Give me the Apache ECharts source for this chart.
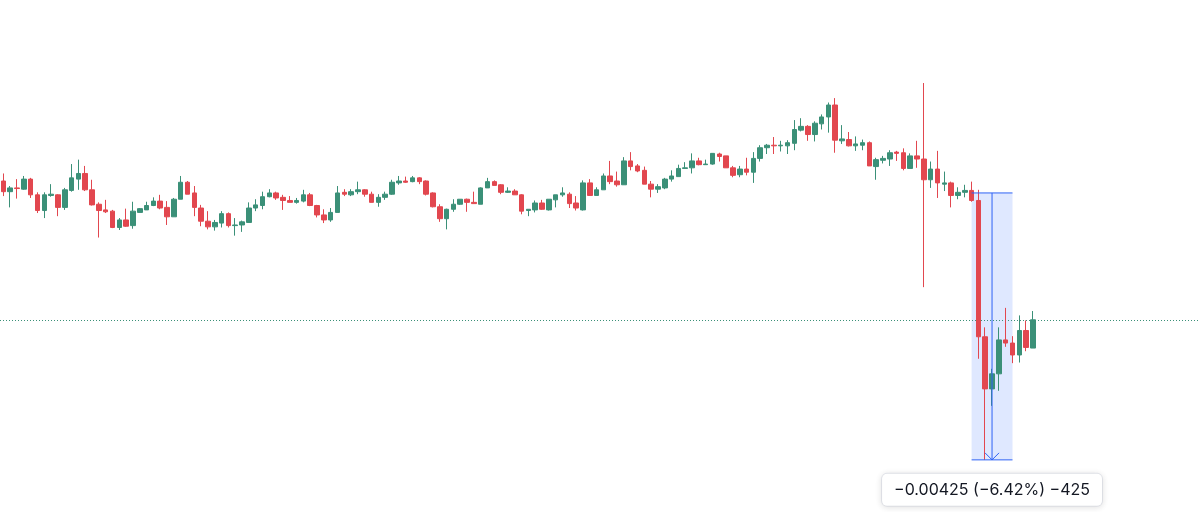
<!DOCTYPE html>
<html><head><meta charset="utf-8">
<script src="https://cdn.jsdelivr.net/npm/echarts@6/dist/echarts.min.js"></script>
<style>html,body{margin:0;padding:0;background:#fff}#c{width:1200px;height:512px}</style>
</head><body><div id="c"></div>
<script>
const opens = [
0.06639,0.06622,0.06628,0.06626,0.06642,0.06617,0.06592,0.06616,0.06617,0.06597,
0.06624,0.06642,0.06651,0.06625,0.06602,0.06593,0.06591,0.06565,0.06577,0.06568,
0.06589,0.06593,0.06600,0.06607,0.06597,0.06582,0.06610,0.06637,0.06620,0.06596,
0.06575,0.06566,0.06572,0.06587,0.06568,0.06569,0.06573,0.06596,0.06600,0.06614,
0.06620,0.06613,0.06608,0.06605,0.06607,0.06617,0.06600,0.06585,0.06577,0.06589,
0.06621,0.06617,0.06622,0.06625,0.06618,0.06605,0.06613,0.06618,0.06636,0.06639,
0.06638,0.06644,0.06639,0.06620,0.06598,0.06579,0.06594,0.06602,0.06610,0.06605,
0.06602,0.06628,0.06638,0.06633,0.06621,0.06623,0.06617,0.06592,0.06593,0.06604,
0.06593,0.06609,0.06617,0.06618,0.06604,0.06593,0.06636,0.06616,0.06625,0.06647,
0.06639,0.06633,0.06671,0.06663,0.06656,0.06634,0.06626,0.06628,0.06642,0.06646,
0.06659,0.06660,0.06671,0.06665,0.06666,0.06682,0.06679,0.06660,0.06649,0.06658,
0.06653,0.06675,0.06692,0.06696,0.06695,0.06695,0.06699,0.06720,0.06726,0.06713,
0.06730,0.06741,0.06760,0.06703,0.06705,0.06695,0.06696,0.06700,0.06662,0.06672,
0.06674,0.06685,0.06684,0.06659,0.06679,0.06674,0.06641,0.06658,0.06634,0.06636,
0.06616,0.06621,0.06624,0.06608,0.06391,0.06308,0.06332,0.06386,0.06381,0.06362,
0.06401,0.06373
];
const closes = [
0.06622,0.06628,0.06627,0.06642,0.06617,0.06592,0.06617,0.06618,0.06597,0.06625,
0.06644,0.06651,0.06625,0.06601,0.06592,0.06590,0.06565,0.06577,0.06567,0.06591,
0.06595,0.06600,0.06607,0.06596,0.06582,0.06610,0.06637,0.06618,0.06597,0.06575,
0.06566,0.06573,0.06587,0.06568,0.06569,0.06574,0.06596,0.06601,0.06614,0.06620,
0.06612,0.06608,0.06605,0.06608,0.06617,0.06600,0.06585,0.06577,0.06589,0.06620,
0.06618,0.06622,0.06625,0.06618,0.06605,0.06613,0.06618,0.06637,0.06639,0.06637,
0.06644,0.06638,0.06618,0.06598,0.06579,0.06594,0.06602,0.06610,0.06605,0.06603,
0.06628,0.06638,0.06632,0.06621,0.06623,0.06617,0.06591,0.06594,0.06604,0.06594,
0.06610,0.06617,0.06620,0.06603,0.06596,0.06636,0.06616,0.06625,0.06647,0.06638,
0.06633,0.06671,0.06662,0.06655,0.06634,0.06626,0.06630,0.06642,0.06647,0.06659,
0.06660,0.06671,0.06665,0.06666,0.06683,0.06678,0.06660,0.06648,0.06658,0.06653,
0.06675,0.06692,0.06696,0.06695,0.06696,0.06700,0.06721,0.06726,0.06713,0.06731,
0.06741,0.06760,0.06704,0.06706,0.06695,0.06698,0.06700,0.06663,0.06673,0.06675,
0.06684,0.06683,0.06659,0.06679,0.06674,0.06641,0.06658,0.06636,0.06636,0.06616,
0.06621,0.06624,0.06608,0.06391,0.06308,0.06332,0.06386,0.06381,0.06362,0.06401,
0.06374,0.06418
];
const lows = [
0.06615,0.06597,0.06611,0.06625,0.06612,0.06588,0.06580,0.06614,0.06583,0.06593,
0.06622,0.06625,0.06623,0.06600,0.06549,0.06588,0.06564,0.06561,0.06566,0.06563,
0.06589,0.06593,0.06599,0.06594,0.06569,0.06582,0.06610,0.06618,0.06583,0.06567,
0.06562,0.06560,0.06565,0.06565,0.06552,0.06558,0.06573,0.06591,0.06594,0.06613,
0.06609,0.06593,0.06605,0.06603,0.06605,0.06599,0.06581,0.06572,0.06574,0.06589,
0.06615,0.06615,0.06618,0.06614,0.06605,0.06598,0.06609,0.06617,0.06633,0.06636,
0.06637,0.06634,0.06616,0.06597,0.06574,0.06562,0.06590,0.06601,0.06590,0.06603,
0.06602,0.06628,0.06632,0.06618,0.06620,0.06617,0.06586,0.06583,0.06589,0.06593,
0.06592,0.06597,0.06614,0.06596,0.06592,0.06592,0.06616,0.06616,0.06625,0.06634,
0.06630,0.06633,0.06656,0.06653,0.06634,0.06613,0.06620,0.06626,0.06638,0.06646,
0.06659,0.06651,0.06664,0.06665,0.06665,0.06670,0.06660,0.06645,0.06645,0.06648,
0.06636,0.06670,0.06682,0.06682,0.06686,0.06682,0.06688,0.06718,0.06703,0.06702,
0.06721,0.06716,0.06684,0.06698,0.06694,0.06687,0.06688,0.06663,0.06641,0.06667,
0.06663,0.06671,0.06656,0.06659,0.06660,0.06470,0.06628,0.06612,0.06623,0.06597,
0.06610,0.06613,0.06606,0.06356,0.06195,0.06281,0.06305,0.06375,0.06349,0.06350,
0.06368,0.06373
];
const highs = [
0.06651,0.06631,0.06642,0.06647,0.06644,0.06621,0.06621,0.06634,0.06618,0.06628,
0.06666,0.06673,0.06663,0.06641,0.06605,0.06609,0.06593,0.06580,0.06595,0.06606,
0.06596,0.06606,0.06613,0.06617,0.06607,0.06612,0.06647,0.06639,0.06631,0.06601,
0.06591,0.06577,0.06591,0.06589,0.06580,0.06576,0.06605,0.06610,0.06622,0.06626,
0.06622,0.06617,0.06615,0.06612,0.06625,0.06620,0.06601,0.06594,0.06596,0.06631,
0.06626,0.06626,0.06638,0.06626,0.06622,0.06618,0.06622,0.06641,0.06647,0.06646,
0.06647,0.06645,0.06640,0.06621,0.06602,0.06595,0.06610,0.06610,0.06611,0.06622,
0.06629,0.06644,0.06640,0.06634,0.06629,0.06626,0.06618,0.06594,0.06608,0.06609,
0.06610,0.06617,0.06629,0.06621,0.06615,0.06640,0.06642,0.06629,0.06651,0.06671,
0.06654,0.06677,0.06685,0.06666,0.06662,0.06639,0.06634,0.06644,0.06656,0.06665,
0.06669,0.06683,0.06676,0.06673,0.06683,0.06684,0.06679,0.06663,0.06663,0.06676,
0.06685,0.06696,0.06698,0.06709,0.06703,0.06704,0.06736,0.06739,0.06728,0.06734,
0.06745,0.06764,0.06771,0.06728,0.06717,0.06710,0.06705,0.06702,0.06676,0.06679,
0.06688,0.06687,0.06691,0.06683,0.06703,0.06795,0.06670,0.06687,0.06654,0.06638,
0.06629,0.06633,0.06638,0.06625,0.06406,0.06340,0.06406,0.06437,0.06392,0.06425,
0.06417,0.06432
];
const futureSlots = 24;            // empty bars to the right of the last candle
const measureFromBar = 142;        // measurement tool: first bar index
const measureToBar = 148;          // last bar index
const measureArrowBar = 145;       // bar where the arrow is drawn
const measureStart = 0.06620;
const measureEnd = 0.06195;
const pipSize = 0.00001;

const UP = '#3b9078', DOWN = '#e2474f', BLUE = '#2e62f5';

const categories = [];
for (let i = 0; i < opens.length + futureSlots; i++) categories.push('B' + (i + 1));
const ohlc = opens.map((o, i) => [o, closes[i], lows[i], highs[i]]);
const lastClose = closes[closes.length - 1];

const minus = s => s.replace('-', '\u2212');
const diff = measureEnd - measureStart;
const measureText = minus(diff.toFixed(5)) + ' (' + minus((diff / measureStart * 100).toFixed(2)) + '%) ' + minus(String(Math.round(diff / pipSize)));

const chart = echarts.init(document.getElementById('c'), null, {renderer: 'canvas'});
const barStep = 6.834;
chart.setOption({
  animation: false,
  backgroundColor: '#ffffff',
  grid: {left: -1.7, width: barStep * categories.length, top: 0, bottom: 0},
  xAxis: {type: 'category', data: categories, show: false, boundaryGap: true},
  yAxis: {type: 'value', scale: true, min: 0.06112, max: 0.069272, show: false, splitLine: {show: false}},
  series: [
    {
      type: 'custom', z: 1, silent: true,
      data: [[measureFromBar, measureToBar, measureStart, measureEnd]],
      encode: {x: [0, 1], y: [2, 3]},
      renderItem: function (params, api) {
        const a = api.coord([api.value(0), api.value(2)]);
        const b = api.coord([api.value(1), api.value(3)]);
        return {type: 'rect', shape: {x: a[0], y: a[1], width: b[0] - a[0], height: b[1] - a[1]},
          style: {fill: 'rgba(41,98,255,0.15)'}};
      }
    },
    {
      // last-price dotted line across the whole pane
      type: 'custom', z: 1, silent: true,
      data: [[0, lastClose]],
      encode: {x: 0, y: 1},
      renderItem: function (params, api) {
        const y = Math.round(api.coord([0, api.value(1)])[1]) + 0.5;
        return {type: 'line', shape: {x1: 0, y1: y, x2: 1200, y2: y},
          style: {stroke: UP, lineWidth: 1, lineDash: [1, 2]}};
      }
    },
    {
      type: 'candlestick', z: 2,
      data: ohlc,
      barWidth: 5,
      itemStyle: {color: UP, color0: DOWN, borderColor: UP, borderColor0: DOWN, borderWidth: 1}
    },
    {
      type: 'custom', z: 3, silent: true,
      data: [[measureFromBar, measureToBar, measureStart, measureEnd, measureArrowBar]],
      encode: {x: [0, 1], y: [2, 3]},
      renderItem: function (params, api) {
        const tl = api.coord([api.value(0), api.value(2)]);
        const br = api.coord([api.value(1), api.value(3)]);
        const ax = api.coord([api.value(4), api.value(2)])[0];
        const ls = {stroke: BLUE, lineWidth: 1};
        const cx = (tl[0] + br[0]) / 2;
        return {type: 'group', children: [
          {type: 'line', shape: {x1: tl[0], y1: tl[1], x2: br[0], y2: tl[1]}, style: ls},
          {type: 'line', shape: {x1: tl[0], y1: br[1], x2: br[0], y2: br[1]}, style: ls},
          {type: 'line', shape: {x1: ax, y1: tl[1], x2: ax, y2: br[1]}, style: ls},
          {type: 'polyline', shape: {points: [[ax - 7, br[1] - 7], [ax, br[1]], [ax + 7, br[1] - 7]]}, style: {stroke: BLUE, lineWidth: 1, fill: null}},
          {type: 'text', x: cx, y: br[1] + 14,
            style: {text: measureText, fill: '#131722', font: '16px Inter, "Noto Sans", sans-serif',
              align: 'center', verticalAlign: 'top', lineHeight: 18,
              backgroundColor: '#ffffff', borderColor: '#e6e8ee', borderWidth: 1, borderRadius: 5,
              padding: [7, 12], shadowBlur: 6, shadowColor: 'rgba(0,0,0,0.10)', shadowOffsetY: 1}}
        ]};
      }
    }
  ]
});
</script></body></html>
